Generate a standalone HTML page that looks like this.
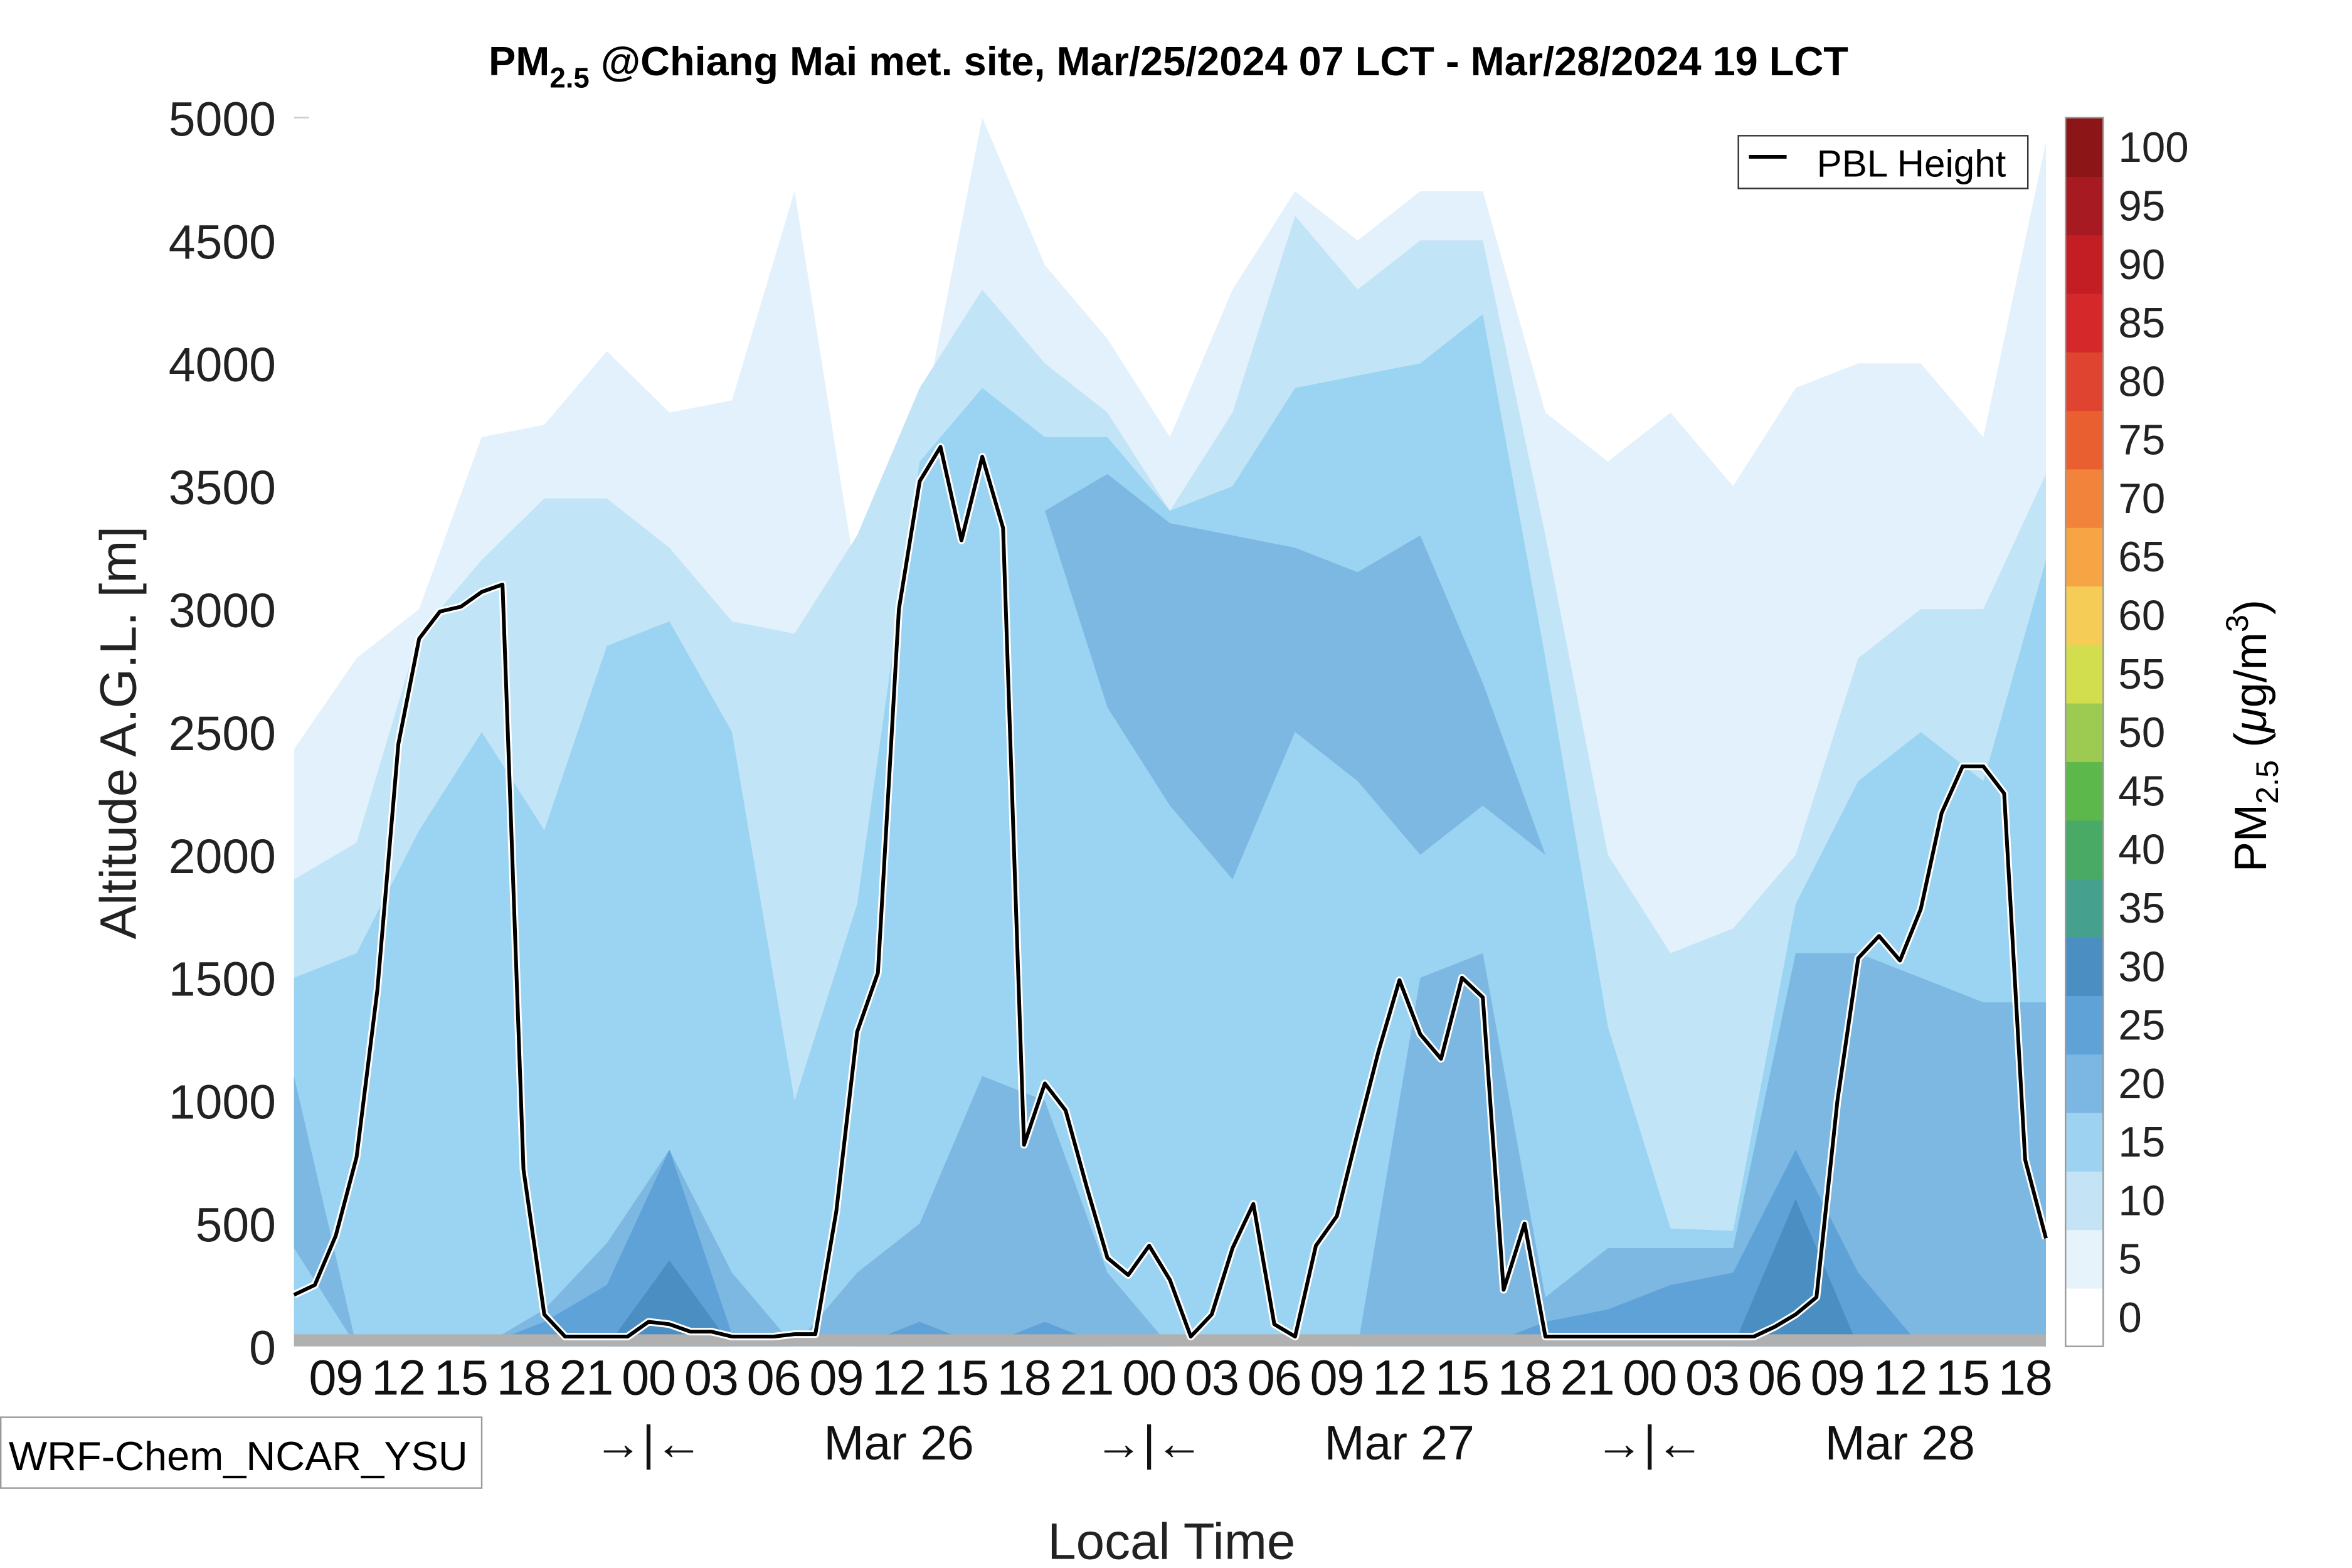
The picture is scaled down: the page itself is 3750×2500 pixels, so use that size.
<!DOCTYPE html>
<html><head><meta charset="utf-8"><style>
html,body{margin:0;padding:0;background:#fff}
svg{display:block;font-family:"Liberation Sans",sans-serif}
</style></head><body>
<svg id="chart" width="3750" height="2500" viewBox="0 0 1560 1040" xmlns="http://www.w3.org/2000/svg">
<rect width="1560" height="1040" fill="#fff"/>
<g id="fills"></g>
<rect x="195" y="885" width="1162" height="8" fill="#b0b0b0"/>
<g id="pbl"></g>
<g id="axes"></g>
<g id="cbar"></g>
<text x="775" y="50" text-anchor="middle" font-size="27" font-weight="bold">PM<tspan font-size="19" dy="8">2.5</tspan><tspan dy="-8"> @Chiang Mai met. site, Mar/25/2024 07 LCT - Mar/28/2024 19 LCT</tspan></text>
<text transform="translate(90,486) rotate(-90)" text-anchor="middle" font-size="34" fill="#222">Altitude A.G.L. [m]</text>
<text x="777" y="1034" text-anchor="middle" font-size="34" fill="#222">Local Time</text>
<g><rect x="0.5" y="940" width="319" height="47" fill="#fff" stroke="#999"/><text x="158" y="975" text-anchor="middle" font-size="27">WRF-Chem_NCAR_YSU</text></g>
<g><rect x="1153" y="90" width="192" height="35" fill="#fff" stroke="#333"/><line x1="1160" y1="104" x2="1185" y2="104" stroke="#000" stroke-width="2.5"/><text x="1205" y="117" font-size="25">PBL Height</text></g>
<text transform="translate(1503,488) rotate(-90)" text-anchor="middle" font-size="30">PM<tspan font-size="21" dy="8">2.5</tspan><tspan dy="-8"> (</tspan><tspan font-style="italic">μ</tspan>g/m<tspan font-size="21" dy="-12">3</tspan><tspan dy="12">)</tspan></text>
</svg>
<script>
const hours3 = [0,3,6,9,12,15,18,21,24,27,30,33,36,39,42,45,48,51,54,57,60,63,66,69,72,75,78,81,84];
const lvl5Top  = [2430,2800,3000,3700,3750,4050,3800,3850,4700,3100,3700,5000,4400,4100,3700,4300,4700,4500,4700,4700,3800,3600,3800,3500,3900,4000,4000,3700,4900];
const lvl10Top = [1900,2050,2900,3200,3450,3450,3250,2950,2900,3300,3900,4300,4000,3800,3400,3800,4600,4300,4500,4500,3300,2000,1600,1700,2000,2800,3000,3000,3550];
const lvl15Top = [1500,1600,2100,2500,2100,2850,2950,2500,1000,1800,3600,3900,3700,3700,3400,3500,3900,3950,4000,4200,2800,1300,480,470,1800,2300,2500,2300,3200];
const lvl20LowBot = [400,0,0,0,0,0,0,0,0,0,0,0,0,0,0,0,0,0,0,0,0,0,0,0,0,0,0,0,0];
const lvl20LowTop = [1100,0,0,0,150,420,800,300,0,300,500,1100,1000,300,0,0,0,0,1500,1600,200,400,400,400,1600,1600,1500,1400,1400];
const lvl20UpBot = [0,0,0,0,0,0,0,0,0,0,0,0,3400,2600,2200,1900,2500,2300,2000,2200,2000,0,0,0,0,0,0,0,0];
const lvl20UpTop = [0,0,0,0,0,0,0,0,0,0,0,0,3400,3550,3350,3300,3250,3150,3300,2700,2000,0,0,0,0,0,0,0,0];
const lvl25Top = [0,0,0,0,100,250,800,50,0,0,100,0,100,0,0,0,0,0,0,0,100,150,250,300,800,300,0,0,0];
const lvl30Top = [0,0,0,0,0,0,350,0,0,0,0,0,0,0,0,0,0,0,0,0,0,0,0,0,600,0,0,0,0];
const zeroBot = hours3.map(()=>0);
const levelColors = ["#e2f1fb","#c2e4f7","#9bd4f2","#7db8e2","#7db8e2","#5fa2d8","#4b8fc2"];
const pblHours = Array.from({length:85},(_,i)=>i);
const pblValues = [210,250,450,770,1450,2450,2880,2990,3010,3070,3100,720,130,40,40,40,40,100,90,60,60,40,40,40,50,50,550,1280,1520,3000,3520,3660,3280,3620,3330,820,1070,960,650,360,290,410,270,40,130,400,580,90,40,410,530,870,1200,1490,1270,1170,1500,1420,230,500,40,40,40,40,40,40,40,40,40,40,40,80,130,200,1000,1580,1670,1570,1780,2170,2360,2360,2250,760,440];
const yTicks = [0,500,1000,1500,2000,2500,3000,3500,4000,4500,5000];
const xTickHours = [2,5,8,11,14,17,20,23,26,29,32,35,38,41,44,47,50,53,56,59,62,65,68,71,74,77,80,83];
const xTickLabels = ["09","12","15","18","21","00","03","06","09","12","15","18","21","00","03","06","09","12","15","18","21","00","03","06","09","12","15","18"];
const dateLabels = ["→|←","Mar 26","→|←","Mar 27","→|←","Mar 28"];
const dateHours = [17,29,41,53,65,77];
const cbarValues = [0,5,10,15,20,25,30,35,40,45,50,55,60,65,70,75,80,85,90,95,100];
const cbarColors = ["#ffffff","#e6f3fb","#c4e4f6","#9dd3f1","#7cb7e3","#5fa2d8","#4b8fc2","#46a08e","#48aa65","#5cb84a","#9dcb52","#d3de4e","#f5cc55","#f6a444","#f2833a","#ea5f30","#de4430","#d4282a","#c41e25","#a81a22","#8b1517"];

const NS="http://www.w3.org/2000/svg";
const X0=195,X1=1357,Y0=893,Y1=78;
const xs=h=>X0+h*(X1-X0)/84;
const ys=v=>Y0-v*(Y0-Y1)/5000;
function mk(t,a,p){const e=document.createElementNS(NS,t);for(const k in a)e.setAttribute(k,a[k]);p.appendChild(e);return e;}

const fills=document.getElementById('fills');
const layers=[[zeroBot,lvl5Top],[zeroBot,lvl10Top],[zeroBot,lvl15Top],[lvl20LowBot,lvl20LowTop],[lvl20UpBot,lvl20UpTop],[zeroBot,lvl25Top],[zeroBot,lvl30Top]];
const layerNames=['contour-5','contour-10','contour-15','contour-20-lower','contour-20-upper','contour-25','contour-30'];
layers.forEach((pair,i)=>{
  const bot=pair[0],top=pair[1];
  let d='';
  hours3.forEach((h,j)=>{d+=(j?' L':'M')+xs(h).toFixed(1)+','+ys(Math.max(top[j],bot[j])).toFixed(1);});
  for(let j=hours3.length-1;j>=0;j--){d+=' L'+xs(hours3[j]).toFixed(1)+','+ys(bot[j]).toFixed(1);}
  d+=' Z';
  const p=mk('path',{d:d,fill:levelColors[i]},fills);
  
  
});

const pbl=document.getElementById('pbl');
const pts=pblHours.map((h,i)=>xs(h).toFixed(1)+','+ys(pblValues[i]).toFixed(1)).join(' ');
const w=mk('polyline',{points:pts,fill:'none',stroke:'#fff','stroke-width':5,'stroke-linejoin':'round'},pbl);


const b=mk('polyline',{points:pts,fill:'none',stroke:'#000','stroke-width':2.5,'stroke-linejoin':'round'},pbl);



const axes=document.getElementById('axes');
yTicks.forEach(v=>{
  const t=mk('text',{x:183,y:ys(v)+12,'text-anchor':'end','font-size':32,fill:'#222'},axes);
  t.textContent=v;
  
  
});
mk('line',{x1:195,y1:Y1,x2:205,y2:Y1,stroke:'#ccc'},axes);
xTickHours.forEach((h,i)=>{
  const t=mk('text',{x:xs(h),y:925,'text-anchor':'middle','font-size':33,'letter-spacing':'-0.5',fill:'#111'},axes);
  t.textContent=xTickLabels[i];
  
  
});
dateHours.forEach((h,i)=>{
  const t=mk('text',{x:xs(h),y:968,'text-anchor':'middle','font-size':32,fill:'#111'},axes);
  t.textContent=dateLabels[i];
  
  
});

const cbar=document.getElementById('cbar');
const segH=(Y0-Y1)/cbarValues.length;
cbarValues.forEach((v,i)=>{
  const y=Y0-(i+1)*segH;
  const r=mk('rect',{x:1370,y:y,width:25,height:segH+0.5,fill:cbarColors[i]},cbar);
  
  
  const t=mk('text',{x:1405,y:y+segH/2+10,'font-size':28,fill:'#222'},cbar);
  t.textContent=v;
  
  
});
mk('rect',{x:1370,y:Y1,width:25,height:Y0-Y1,fill:'none',stroke:'#999','stroke-width':1},cbar);
</script>
</body></html>
